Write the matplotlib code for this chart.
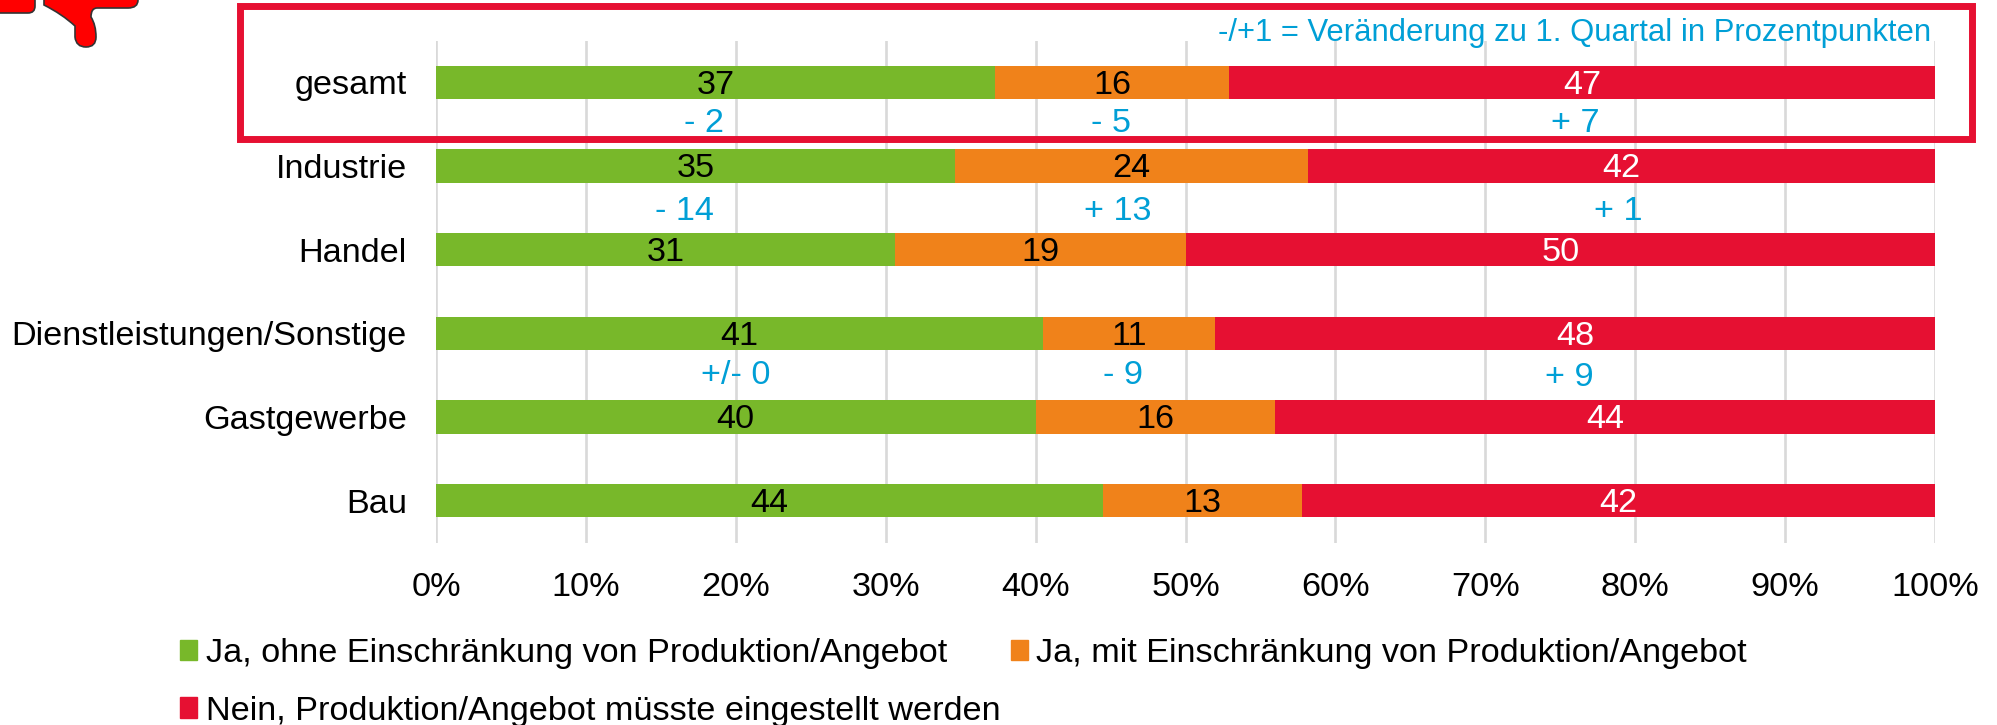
import matplotlib
matplotlib.use("Agg")
import matplotlib.pyplot as plt
from matplotlib.patches import Rectangle, PathPatch
from matplotlib.path import Path
import numpy as np

plt.rcParams['font.family'] = ['Liberation Sans', 'DejaVu Sans']

# data
categories = ["gesamt", "Industrie", "Handel", "Dienstleistungen/Sonstige", "Gastgewerbe", "Bau"]
ohne = [37.3, 34.6, 30.6, 40.5, 40.0, 44.5]
mit = [15.6, 23.6, 19.4, 11.5, 16.0, 13.3]
nein = [47.1, 41.8, 50.0, 48.0, 44.0, 42.2]
ohne_labels = ["37", "35", "31", "41", "40", "44"]
mit_labels = ["16", "24", "19", "11", "16", "13"]
nein_labels = ["47", "42", "50", "48", "44", "42"]
series_names = ["Ja, ohne Einschränkung von Produktion/Angebot",
                "Ja, mit Einschränkung von Produktion/Angebot",
                "Nein, Produktion/Angebot müsste eingestellt werden"]
tick_labels = ["0%", "10%", "20%", "30%", "40%", "50%", "60%", "70%", "80%", "90%", "100%"]
change_note = "-/+1 = Veränderung zu 1. Quartal in Prozentpunkten"
# change labels: text, x in percent, y in category units
change_text = ["- 2", "- 5", "+ 7", "- 14", "+ 13", "+ 1", "+/- 0", "- 9", "+ 9"]
change_x = [17.9, 45.0, 76.0, 16.6, 45.5, 78.9, 20.0, 45.8, 75.6]
change_y = [0.49, 0.49, 0.49, 1.54, 1.54, 1.54, 3.5, 3.5, 3.53]

GREEN = "#78b82a"
ORANGE = "#f0821a"
RED = "#e61032"
BLUE = "#009fd6"
W, H = 1997, 725
FS = 24.7

fig = plt.figure(figsize=(W / 100, H / 100), dpi=100)
ax = fig.add_axes([436 / W, 1 - 542.5 / H, (1935 - 436) / W, (542.5 - 40.5) / H])

y = np.arange(len(categories))
left = np.zeros(len(categories))
for vals, col, labs, tc in [(ohne, GREEN, ohne_labels, "black"),
                            (mit, ORANGE, mit_labels, "black"),
                            (nein, RED, nein_labels, "white")]:
    ax.barh(y, vals, left=left, height=0.4, color=col, zorder=3)
    for i in range(len(categories)):
        ax.text(left[i] + vals[i] / 2, y[i] + 0.035, labs[i], color=tc, fontsize=FS,
                ha="center", va="center", zorder=4)
    left = left + np.array(vals)

for t, xp, yp in zip(change_text, change_x, change_y):
    ax.text(xp, yp, t, color=BLUE, fontsize=FS, ha="center", va="center", zorder=4)

ax.set_xlim(0, 100)
ax.set_ylim(len(categories) - 0.5, -0.5)
ax.set_xticks(np.arange(0, 101, 10))
ax.set_xticklabels(tick_labels, fontsize=FS)
ax.set_yticks(y)
ax.set_yticklabels(categories, fontsize=FS)
ax.tick_params(axis="both", length=0)
ax.tick_params(axis="x", pad=21)
ax.tick_params(axis="y", pad=21)
ax.grid(axis="x", color="#d9d9d9", linewidth=1.9, zorder=0)
ax.set_axisbelow(True)
for s in ax.spines.values():
    s.set_visible(False)

# legend
handles = [Rectangle((0, 0), 1, 1, color=c) for c in (GREEN, RED, ORANGE)]
names = [series_names[0], series_names[2], series_names[1]]
fig.legend(handles, names, ncol=2, fontsize=FS, frameon=False, loc="upper left",
           bbox_to_anchor=(180 / W, 1 - 638 / H), borderaxespad=0, borderpad=0,
           handlelength=0.5, handleheight=0.55, handletextpad=0.25,
           labelspacing=0.78, columnspacing=0.3)

# red frame around the first row
fig.add_artist(Rectangle((240 / W, 1 - 139 / H), 1732 / W, 133 / H, fill=False,
                         edgecolor=RED, linewidth=5, transform=fig.transFigure, zorder=5))
fig.text(1931 / W, 1 - 33 / H, change_note, color=BLUE, fontsize=22.3,
         ha="right", va="center")

# thumb icon, cut off at the top
px = lambda a, b: (a / W, 1 - b / H)
thumb_pts = [(44, -5), (44, 5), (62, 14), (75, 26), (75, 37), (76, 47), (86, 47), (96, 47),
             (96, 37), (96, 25), (91, 17), (91, 8), (97, 8), (128, 8), (138, 8), (138, 0),
             (138, -5), (44, -5)]
thumb_codes = [Path.MOVETO, Path.LINETO, Path.CURVE3, Path.CURVE3, Path.LINETO,
               Path.CURVE3, Path.CURVE3, Path.CURVE3, Path.CURVE3, Path.CURVE3, Path.CURVE3,
               Path.CURVE3, Path.CURVE3, Path.LINETO, Path.CURVE3, Path.CURVE3,
               Path.LINETO, Path.CLOSEPOLY]
fig.add_artist(PathPatch(Path([px(*p) for p in thumb_pts], thumb_codes), facecolor="#ff0000",
                         edgecolor="#333333", linewidth=1.2, transform=fig.transFigure))
block_pts = [(-5, -5), (-5, 13), (28, 13), (35, 13), (35, 6), (35, -5), (-5, -5)]
block_codes = [Path.MOVETO, Path.LINETO, Path.LINETO, Path.CURVE3, Path.CURVE3,
               Path.LINETO, Path.CLOSEPOLY]
fig.add_artist(PathPatch(Path([px(*p) for p in block_pts], block_codes), facecolor="#ff0000",
                         edgecolor="#333333", linewidth=1.2, transform=fig.transFigure))

fig.savefig("out.png", dpi=100)
